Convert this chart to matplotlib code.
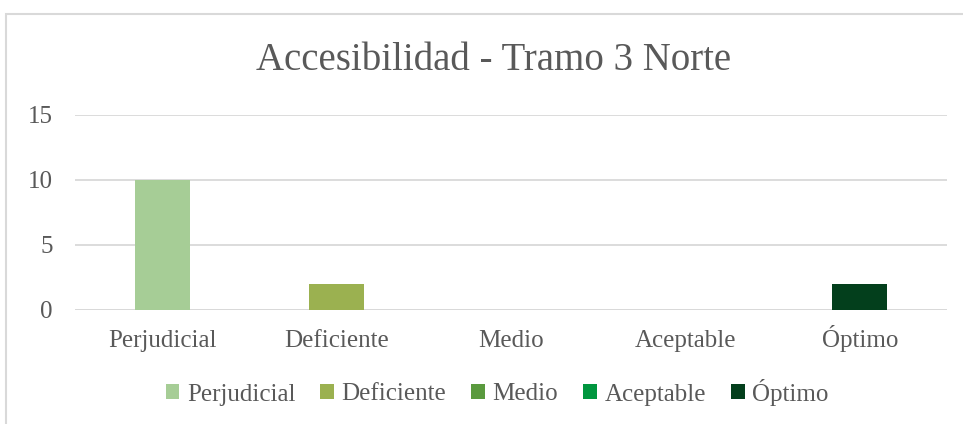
import matplotlib

matplotlib.use("Agg")
import matplotlib.pyplot as plt
from matplotlib.patches import Rectangle

categories = ["Perjudicial", "Deficiente", "Medio", "Aceptable", "Óptimo"]
counts = [10, 2, 0, 0, 2]
colors = ["#a6cd96", "#9bb150", "#5a9a3e", "#00963f", "#033f1c"]
yticks = [0, 5, 10, 15]

plt.rcParams["font.family"] = ["Liberation Serif", "DejaVu Serif"]
text_color = "#595959"
grid_color = "#d9d9d9"

fig = plt.figure(figsize=(9.63, 4.24), dpi=100)
ax = fig.add_axes([0.0779, 0.2689, 0.9054, 0.4599])

for i, (cat, val, col) in enumerate(zip(categories, counts, colors)):
    ax.bar(i, val, width=0.315, color=col, label=cat, zorder=3)

ax.set_xlim(-0.5, len(categories) - 0.5)
ax.set_ylim(0, 15)
ax.set_yticks(yticks)
ax.set_xticks(range(len(categories)))
ax.set_xticklabels(categories)
ax.yaxis.grid(True, color=grid_color, linewidth=1.3, zorder=0)
ax.set_axisbelow(True)
for side in ["top", "right", "left", "bottom"]:
    ax.spines[side].set_visible(False)
ax.axhline(0, color=grid_color, linewidth=1.3, zorder=2)
ax.tick_params(axis="y", length=0, pad=16, labelsize=18, labelcolor=text_color)
ax.tick_params(axis="x", length=0, pad=26.5, labelsize=18, labelcolor=text_color)
# keep accented labels on the same baseline as the rest
for lbl in ax.get_xticklabels():
    lbl.set_verticalalignment("baseline")

fig.text(494 / 963, 1 - 60 / 424, "Accesibilidad - Tramo 3 Norte",
         ha="center", va="center", fontsize=28, color=text_color)

handles, labels = ax.get_legend_handles_labels()
leg = fig.legend(handles, labels, loc="center", bbox_to_anchor=(497 / 963, 1 - 392 / 424),
                 ncol=5, frameon=False, fontsize=18, handlelength=0.55, handleheight=0.55,
                 handletextpad=0.3, columnspacing=1.0, labelcolor=text_color)

# outer chart border
fig.patches.append(Rectangle((6 / 963, -0.1), 1.2, 1 - 14 / 424 + 0.1,
                             transform=fig.transFigure, fill=False,
                             edgecolor=grid_color, linewidth=1.5))

fig.savefig("out.png", dpi=100)
